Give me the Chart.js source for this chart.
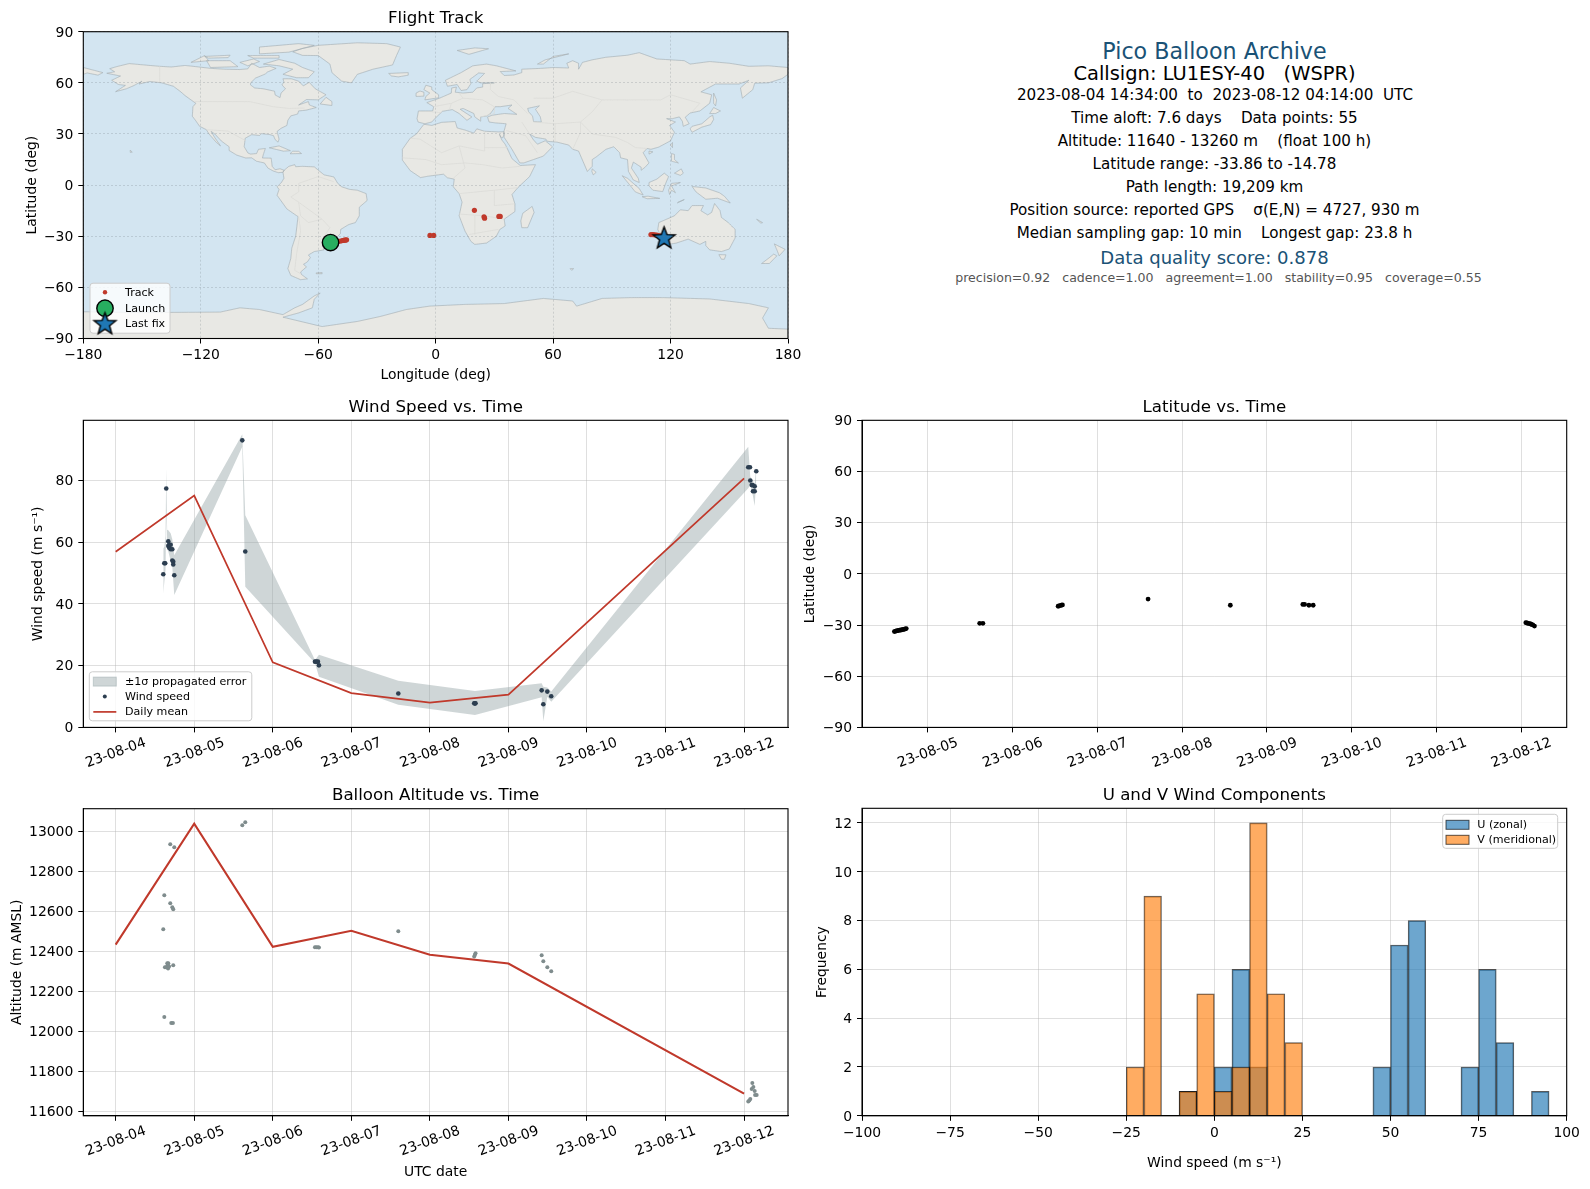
<!DOCTYPE html>
<html>
<head>
<meta charset="utf-8">
<title>Pico Balloon Archive</title>
<script src="https://cdn.jsdelivr.net/npm/chart.js@4/dist/chart.umd.js"></script>
<style>
    html, body { margin: 0; padding: 0; background: #fff; }
    body { position: relative; width: 1590px; height: 1189px; overflow: hidden; font-family: "DejaVu Sans", sans-serif; }
    canvas { position: absolute; }
    .info { position: absolute; left: 1214.5px; transform: translate(-50%, -50%); white-space: pre; }
</style>
</head>
<body>
<canvas id="mapChart"></canvas>
<canvas id="windChart"></canvas>
<canvas id="latChart"></canvas>
<canvas id="altChart"></canvas>
<canvas id="histChart"></canvas>
<script>
// day-of-month values (August 2023, UTC)
const windDays = [4.606,4.619,4.631,4.644,4.670,4.670,4.682,4.682,4.700,4.700,4.721,4.721,4.733,4.733,4.746,5.612,5.650,6.537,6.554,6.575,6.588,7.598,8.564,8.574,8.581,9.423,9.444,9.495,9.545,12.053,12.075,12.079,12.097,12.110,12.113,12.135,12.135,12.155];
const windSpeed = [49.6,53.2,53.2,77.4,60.3,58.8,59.2,58.2,59.2,57.7,57.7,54.1,53.7,52.8,49.3,93.0,57.0,21.3,21.3,21.3,20.1,11.0,7.8,7.8,7.8,12.0,7.5,11.6,10.1,84.3,84.3,80.0,78.5,78.5,76.5,78.1,76.5,83.0];
const bandDays = [4.606,4.620,4.635,4.644,4.655,4.670,4.700,4.721,4.746,5.612,5.650,6.537,6.588,7.598,8.574,9.423,9.444,9.495,9.545,12.053,12.079,12.110,12.135,12.155];
const bandUpper = [58.0,58.5,62.0,83.9,64.0,63.9,62.9,61.0,55.8,95.0,68.7,21.8,23.5,15.1,11.8,14.3,13.2,12.9,11.6,90.9,81.2,80.1,78.5,85.5];
const bandLower = [43.4,47.2,51.0,70.0,58.0,57.0,54.0,52.0,42.9,90.9,45.6,20.9,16.4,7.3,4.0,9.75,2.0,9.95,8.3,77.5,78.5,75.3,71.7,80.4];
const meanDays = [4,5,6,7,8,9,12];
const meanWind = [56.9,75.1,21.1,11.1,8.0,10.6,80.7];
const meanAlt = [12433,13038,12422,12502,12382,12338,11687];

const altDays = [4.695,4.746,4.619,4.695,4.721,4.733,4.606,4.657,4.670,4.663,4.627,4.644,4.667,4.680,4.733,4.619,4.708,4.729,5.612,5.650,6.537,6.554,6.575,6.588,7.598,8.564,8.574,8.581,9.423,9.444,9.495,9.545,12.105,12.097,12.118,12.135,12.140,12.160,12.053,12.066,12.079];
const altMeters = [12935,12920,12680,12640,12620,12610,12510,12340,12340,12330,12320,12320,12313,12323,12330,12070,12040,12040,13030,13045,12420,12420,12420,12418,12500,12373,12382,12390,12380,12350,12320,12300,11740,11710,11720,11700,11680,11680,11647,11653,11660];

const latDays = [4.606,4.619,4.631,4.644,4.657,4.670,4.682,4.695,4.708,4.721,4.733,4.746,5.612,5.650,6.537,6.554,6.575,6.588,7.598,8.568,9.423,9.444,9.495,9.545,12.053,12.066,12.079,12.097,12.110,12.118,12.135,12.155];
const latDeg = [-33.86,-33.6,-33.4,-33.3,-33.1,-33.0,-32.9,-32.8,-32.6,-32.5,-32.3,-32.1,-29.0,-29.0,-19.0,-18.7,-18.4,-18.2,-14.78,-18.4,-17.9,-17.9,-18.4,-18.4,-28.6,-28.8,-29.0,-29.2,-29.4,-29.6,-29.9,-30.6];

// histogram, 5 m/s bins, value is the bin centre
const uBins = [-7.5,2.5,7.5,12.5,47.5,52.5,57.5,72.5,77.5,82.5,92.5];
const uCounts = [1,2,6,2,2,7,8,2,6,3,1];
const vBins = [-22.5,-17.5,-7.5,-2.5,2.5,7.5,12.5,17.5,22.5];
const vCounts = [2,9,1,5,1,2,12,5,3];

const trackLon = [-52,-50.5,-49.5,-48.5,-47.5,-47,-46.5,-46,-45.5,-2.9,-1,19.8,24.7,25,32.3,33,110,111,112,113,114,115,116];
const trackLat = [-33.6,-33.2,-33,-32.8,-32.5,-32.4,-32.3,-32.2,-32.1,-29.5,-29.5,-14.8,-18.6,-19.4,-18.4,-18.4,-29,-29,-29.2,-29.4,-29.6,-29.9,-30.4];
const launchPos = [[-53.7,-33.7]];
const lastFixPos = [[116.7,-30.7]];

const dayTicks = [4,5,6,7,8,9,10,11,12];
const latDayTicks = [5,6,7,8,9,10,11,12];
const lonTicks = [-180,-120,-60,0,60,120,180];
const latTicks = [-90,-60,-30,0,30,60,90];
const windTicks = [0,20,40,60,80];
const altTicks = [11600,11800,12000,12200,12400,12600,12800,13000];
const histXTicks = [-100,-75,-50,-25,0,25,50,75,100];
const histYTicks = [0,2,4,6,8,10,12];

const headerLines = [
    ['Pico Balloon Archive', 50.7, 22.2, '#1a5276', 0],
    ['Callsign: LU1ESY-40   (WSPR)', 73, 19.45, '#000', 0],
    ['2023-08-04 14:34:00  to  2023-08-12 04:14:00  UTC', 94.5, 15.17, '#000', 0.5],
    ['Time aloft: 7.6 days    Data points: 55', 117.5, 15.17, '#000', 0],
    ['Altitude: 11640 - 13260 m    (float 100 h)', 140.5, 15.17, '#000', 0],
    ['Latitude range: -33.86 to -14.78', 163.5, 15.17, '#000', 0],
    ['Path length: 19,209 km', 186.5, 15.17, '#000', 0],
    ['Position source: reported GPS    σ(E,N) = 4727, 930 m', 210, 15.17, '#000', 0],
    ['Median sampling gap: 10 min    Longest gap: 23.8 h', 233, 15.17, '#000', 0],
    ['Data quality score: 0.878', 256.5, 18.06, '#1a5276', 0],
    ['precision=0.92   cadence=1.00   agreement=1.00   stability=0.95   coverage=0.55', 277, 12.55, '#555', 4],
];

// coastlines, [lon, lat]
const landNorthAmerica = [[-168,65.6],[-164,66.5],[-166.5,68.3],[-163,69.5],[-156.6,71.3],[-148,70.4],[-141,69.7],[-135,69.3],[-128,70.2],[-124,69.7],[-115,68.5],[-108,68],[-100,67.8],[-96,68.2],[-94,71.5],[-90,69],[-85,69.8],[-81.5,68.5],[-86,66.3],[-87,65.2],[-92,62.8],[-94.5,60],[-94.6,58.8],[-92.5,57],[-88,56.5],[-82.3,55.1],[-82,52.9],[-79.5,51.3],[-79,54],[-76.7,56.5],[-78.5,58.8],[-77.5,60.5],[-78,62.4],[-73.8,62.4],[-70,61],[-67.6,58.2],[-64.6,60.3],[-61.5,56.5],[-56,53],[-60,50],[-66,50.2],[-70,47],[-65,49],[-64.5,47],[-61,45.5],[-66,44],[-70,43.5],[-70.5,41.7],[-74,40.6],[-75.5,38],[-76,35],[-79,33.3],[-81,31.5],[-80,27],[-80.5,25.2],[-82,26.7],[-82.8,29],[-85,29.7],[-89,30.2],[-90,29.1],[-94,29.6],[-97.3,27.5],[-97.8,22.5],[-95.9,18.8],[-94.5,18.2],[-91.5,18.5],[-90.5,21],[-87,21.5],[-88,18],[-88.5,15.9],[-84,15.8],[-83.5,11],[-82,9],[-79.5,9.6],[-77.4,8.7],[-78,7.5],[-80.4,7.3],[-83,8.3],[-85.7,10],[-87.5,13],[-91.5,14],[-94,16],[-97,15.9],[-101.6,17.6],[-105.5,20.3],[-105.5,22.5],[-109.4,25.8],[-112.8,30],[-114.7,31.5],[-112.8,27.8],[-109.9,23],[-112,25],[-115.8,30],[-117.1,32.5],[-120.6,34.5],[-122.5,37.7],[-124.3,40.4],[-124,46],[-122.5,48],[-125,50],[-128,52.5],[-130.5,55],[-134,58],[-140,60],[-146,60.8],[-151.5,59.3],[-150,61],[-154,58.5],[-158,56.5],[-163.5,54.8],[-158.5,58.5],[-162,59],[-165.5,61.5],[-161,64],[-168,65.6]];
const landGreenland = [[-73,78.2],[-68,80.2],[-60,82],[-40,83.5],[-25,83],[-18,81],[-20,76],[-22,70.5],[-32,68],[-40,65],[-43,60],[-48,61],[-53,66],[-54,71],[-60,76],[-68,76.1],[-73,78.2]];
const landArctic = [
    [[-80,73.7],[-72,71.5],[-68,69],[-62,66.5],[-65,63],[-71,63],[-78,65],[-73,68],[-80,70],[-88,71],[-80,73.7]],
    [[-117,73],[-105,73],[-101,69.5],[-115,69],[-117,73]],
    [[-125,72],[-118,76],[-116,73],[-125,72]],
    [[-90,77],[-90,81],[-70,83],[-62,82],[-75,78],[-90,77]],
    [[-96,76],[-80,76],[-80,74.5],[-93,74.5],[-96,76]],
    [[-100,72],[-93,74],[-90,72.5],[-96,70],[-100,72]],
    [[-118,75.5],[-105,76.2],[-106,74.8],[-116,74.5],[-118,75.5]],
    [[11,79],[20,80.5],[27,80],[17,76.7],[11,79]],
    [[52,71],[56,73.5],[68,77],[60,75.5],[55,71],[52,71]],
    [[-180,65],[-180,69],[-175,67.5],[-170,66],[-172.5,64.5],[-178,65.8],[-180,65]],
];
const landAtlanticIslands = [
    [[-59,47.6],[-53,46.7],[-53,49],[-56,51.5],[-59,47.6]],
    [[-85,21.9],[-80,23],[-74.2,20.2],[-77.7,19.9],[-85,21.9]],
    [[-74.4,18.4],[-68.5,18.5],[-70,19.8],[-73,19.9],[-74.4,18.4]],
    [[-61,-51.5],[-58,-51.3],[-58,-52],[-61,-52],[-61,-51.5]],
    [[-5.5,50],[1.5,51.2],[1.5,53],[-2,56],[-2,57.6],[-5,58.6],[-6,56],[-3,54],[-5,52],[-5.5,50]],
    [[-10,52],[-6,52.2],[-6,54.5],[-8,55.2],[-10,54],[-10,52]],
    [[-24,65.5],[-14,66],[-14,64.5],[-19,63.5],[-22.5,64],[-24,65.5]],
];
const landSouthAmerica = [[-77.4,8.7],[-75,11],[-72,12],[-71.5,10.8],[-68,11],[-62,10.7],[-57,6],[-52,4.8],[-50,1],[-48,-1],[-44,-2.5],[-40,-3],[-35.5,-5],[-35,-9],[-39,-13],[-39,-18],[-41,-22],[-44.5,-23.2],[-48.5,-26],[-48.7,-28.5],[-52,-32.3],[-54,-34.5],[-58,-34.5],[-57,-38],[-62,-39],[-65,-41],[-64,-42.5],[-65.5,-45],[-67.5,-46.5],[-66,-48],[-69,-51],[-68.5,-52.5],[-65.5,-55],[-69,-55.5],[-74,-53],[-75.5,-49],[-74,-43],[-73.5,-37],[-71.5,-30],[-70.3,-18.5],[-76,-14],[-81,-6],[-80,-2.5],[-81,-1],[-78.8,1.5],[-77.5,4],[-78,7.5],[-77.4,8.7]];
const landAfrica = [[-17,14.7],[-17,21],[-13,27.5],[-9.8,30],[-6,35.7],[-2,35],[3,36.8],[10,37.3],[11,33.5],[15,32.3],[19.5,30.5],[21,33],[25,31.6],[32,31.2],[34.9,31.3],[34.9,29.4],[34.2,27.8],[33.2,28.2],[32.6,29.9],[33.8,26.5],[35.5,24],[37.2,20],[39,15.5],[43.2,11.5],[51,12],[48,5],[42,-1.5],[39,-5.5],[40.5,-11],[40.5,-15.5],[35,-20],[35.5,-24],[32.8,-26],[31,-30],[26,-34],[20,-34.8],[18,-33],[15,-27],[12,-18],[13.5,-10],[12,-5],[9,-1],[9.5,3.5],[6,4.3],[4,6.4],[-4,5.2],[-7.7,4.4],[-13,8.5],[-17,14.7]];
const landMadagascar = [[49.3,-12.5],[50.3,-16],[47,-25],[44,-25],[43.5,-21],[44.5,-16.5],[49.3,-12.5]];
const landEurasia = [[-9,37],[-9.5,39],[-8.8,43.5],[-1.5,43.5],[-1,46],[-4.5,48.4],[2,51],[4,52],[8,54],[8.2,57],[10.6,57.5],[10,54.5],[14,54],[19,54.5],[21,57],[24,57.5],[24,59.5],[30,60],[23,60],[21,61],[25,65.5],[22,65.8],[17.5,62],[18,59.5],[16,56],[13,55.5],[11,59],[6,58],[5,61.5],[13,66],[19,70],[26,71],[31,70],[41,67],[33,66.6],[35,64.3],[40,64.6],[44,66],[44,68],[54,68.5],[60,69],[68,68.7],[67,71.5],[70,73],[73,71.5],[73,68],[75,72],[80,73.5],[87,75],[98,76.2],[104,77.7],[113,74],[127,73],[130,71],[140,72.5],[150,71.5],[160,69.7],[170,70],[180,69],[180,65],[177,62.5],[170,60],[163,59.8],[162,56],[156.7,51],[155.7,57],[160,61.5],[155,59.3],[143,59.3],[135.5,54.7],[141,53],[140,48],[135,43.5],[130,42.3],[127.5,39.8],[129.5,36],[126.5,34.5],[126,37.5],[124.5,40],[121,39],[118,39],[122.5,37],[119.5,35],[122,31],[120,26],[114,22.3],[110,21],[108,21.5],[106,19],[109,13],[107,10.5],[105,8.7],[105,10.5],[101,13.5],[100,10],[103.5,4],[104,1.5],[101,3],[98.5,8],[98,15],[94.5,16],[94,19],[91,22.5],[87,21],[82,16.5],[80,15],[80,11],[77.5,8],[73,20],[70,21],[68,23.5],[62,25.2],[57,25.7],[56.3,27],[51,28],[48,30],[50,26.5],[52,24],[56,26],[59.7,22.5],[55,17],[45,13],[43,13],[39,21],[35,28],[34.9,31.5],[36,36],[30.5,36.5],[27.3,37],[26.5,40],[29,41],[35,42],[41.5,41.5],[37,45],[39,47],[33,46],[30.5,46],[28,42],[26,40.5],[23,40],[23,37.5],[20,40],[19.5,42],[14,45],[12.5,44.5],[18.5,40],[16,38],[12,42],[8.5,44.3],[3.5,43.3],[0,39.5],[-2,37],[-5.5,36],[-9,37]];
const landAsiaIslands = [
    [[142,54],[143.5,50],[143,46.5],[142,48],[142,54]],
    [[130,33],[131,34.5],[136,36],[140,40],[141.5,41],[142,38.5],[140.5,35.5],[136,34],[131,31],[130,33]],
    [[140,42],[142,45.5],[145.5,43.5],[143,42],[140,42]],
    [[80,9.5],[82,7.5],[80.5,6],[79.8,8],[80,9.5]],
    [[121,25],[121,22],[120,23.5],[121,25]],
    [[109,20],[111,19.5],[109,18.2],[109,20]],
    [[120.5,18.5],[122,18],[122,15],[124,13],[120.5,14],[120.5,18.5]],
    [[122,7],[125.5,9.5],[126.5,7],[125,5.7],[122,7]],
    [[109,1.5],[113,3.5],[116.8,7],[119,5],[117.5,1],[116,-3.8],[111,-3],[109,-0.5],[109,1.5]],
    [[95.3,5.5],[98,4],[104,-2],[106,-5.8],[102,-4],[98.5,1],[95.3,5.5]],
    [[105.5,-6.8],[108.5,-6.5],[114.5,-7.8],[108,-8],[105.5,-6.8]],
    [[119.5,-5.5],[119,-3],[120.5,1],[125,1.5],[120.5,-0.5],[122.5,-4.5],[120.5,-3],[119.5,-5.5]],
    [[131,-0.8],[138,-1.7],[145,-4.5],[147.5,-6.5],[150.5,-10.5],[144,-7.7],[138,-8.3],[133,-4],[131,-0.8]],
    [[124,-10],[127,-8.5],[123.5,-10.4],[124,-10]],
];
const landAustralia = [[114,-22],[113.5,-26],[115,-30],[115,-34.3],[118,-35],[123,-34],[129,-31.7],[135,-34.8],[138,-33],[138,-35.5],[140,-38],[146,-39],[150,-37.5],[153,-31],[153,-26],[149.5,-22],[146,-19],[145.3,-15],[142.5,-10.8],[141,-16],[139,-17.5],[135.5,-15],[136.8,-12],[131,-12],[129,-15],[125,-14.5],[122,-18],[117,-20.5],[114,-22]];
const landOceania = [
    [[144.7,-40.8],[148.3,-40.9],[147.5,-43.5],[146,-43.5],[144.7,-40.8]],
    [[173,-34.5],[178.5,-37.7],[175.5,-41.5],[174.5,-38.5],[173,-34.5]],
    [[172.7,-40.5],[174.3,-41.5],[170.5,-46],[166.5,-46],[170,-43],[172.7,-40.5]],
    [[164,-20],[167,-22],[166,-22.3],[164,-20]],
    [[-156,20.5],[-155,19.3],[-156,19.2],[-156,20.5]],
    [[68.7,-49],[70.5,-49],[69.5,-50],[68.7,-49]],
];
const landAntarctica = [[-180,-90],[-180,-74.3],[-150,-74.8],[-110,-74.5],[-100,-72],[-90,-73],[-78,-76],[-72,-72],[-68,-70],[-62,-65],[-59,-63.3],[-62,-67],[-63,-72],[-70,-75],[-78,-77.5],[-58,-83],[-40,-80],[-28,-77],[-15,-73],[-3,-71],[15,-70],[35,-69.5],[55,-66.5],[70,-68],[72,-71],[85,-66.5],[100,-66],[116,-66],[140,-66.8],[160,-69.5],[170,-72],[167,-78],[170,-84],[180,-84.5],[180,-90],[-180,-90]];
const seaCaspian = [[47,45],[53,46.5],[51,44.5],[53.5,40],[54,37],[50,37.3],[49.5,40.5],[47.5,43],[47,45]];
const borderLines = [
    [[-123,49],[-95,49],[-83,46],[-75,45],[-67,45.2]],
    [[-141,60],[-141,69.7]],
    [[-117,32.5],[-106,31.7],[-97,26]],
    [[-70,-10],[-58,-20],[-54,-25],[-57,-30],[-53,-33.5]],
    [[-70,-10],[-74,-7],[-70,-4],[-70,1],[-60,5],[-52,2]],
    [[-70,-18],[-69,-27],[-71,-40],[-72,-50],[-69,-52]],
    [[-58,-20],[-65,-22],[-69,-18],[-70,-10]],
    [[-13,27.5],[-8,27],[3,19],[12,23],[25,20],[25,31.6]],
    [[25,22],[37,22]],[[12,23],[15,10],[9,4]],[[-17,16],[-5,15],[3,12],[15,13],[24,12],[34,10],[43,11]],
    [[12,-5],[30,-3],[42,-1.5]],[[12,-17],[25,-18],[35,-20]],[[30,-3],[30,-12],[40,-11]],[[20,-29],[20,-18]],[[17,-29],[32,-26]],
    [[28,60],[28,56],[32,52],[40,50],[47,42]],
    [[50,51],[60,51],[70,55],[85,50],[98,50],[115,50],[120,53],[135,48],[131,43]],
    [[50,37],[61,36],[74,37],[80,30],[92,28],[98,25],[102,22],[108,21.5]],
    [[61,25],[61,36]],[[44,37],[48,30]],[[36,32],[46,29],[52,19]],[[74,37],[74,31],[70,21]],[[85,50],[80,43],[74,37]],
    [[-2,43],[3,42.5]],[[-1,46],[8,48],[7,44]],[[8,48],[14,51],[24,50],[30,46]],[[14,51],[12,54]],[[23,40],[30,42],[30,46]],
];

const gridColor = 'rgba(176,176,176,0.4)';
const mapGridColor = 'rgba(110,120,125,0.3)';
const leftCol = { left: 83.3, right: 788, canvasLeft: 0, canvasRight: 812 };
const rightCol = { left: 862, right: 1566.7, canvasLeft: 800, canvasRight: 1590 };

Chart.defaults.font.family = '"DejaVu Sans"';
Chart.defaults.font.size = 13.9;
Chart.defaults.color = '#000';
Chart.defaults.animation = false;

function zip(xs, ys) { return xs.map((x, i) => [x, ys[i]]); }
function zipBars(xs, ys) { return xs.map((x, i) => ({ x, y: ys[i] })); }
function dayLabel(v) { return '23-08-' + String(v).padStart(2, '0'); }
function minusLabel(v) { return String(v).replace('-', '\u2212'); }
// one dataset for many outlines, null points break the line between them
function joinShapes(shapes) { return shapes.flatMap(s => [...s, [null, null]]); }

function starMarker(radius, fill) {
    const c = document.createElement('canvas');
    c.width = c.height = Math.ceil(radius * 2 + 6);
    const g = c.getContext('2d');
    g.translate(c.width / 2, c.height / 2 + 1);
    g.beginPath();
    for (let i = 0; i < 10; i++) {
        const r = i % 2 ? radius * 0.42 : radius;
        const a = -Math.PI / 2 + i * Math.PI / 5;
        g.lineTo(r * Math.cos(a), r * Math.sin(a));
    }
    g.closePath();
    g.fillStyle = fill;
    g.fill();
    g.lineWidth = 1.4;
    g.strokeStyle = '#000';
    g.stroke();
    return c;
}

// frame round the axes, optional background and a legend inside the axes
const panelDecor = {
    id: 'panelDecor',
    beforeDraw(chart, args, opts) {
        if (!opts.background) return;
        const a = chart.chartArea;
        chart.ctx.fillStyle = opts.background;
        chart.ctx.fillRect(a.left, a.top, a.right - a.left, a.bottom - a.top);
    },
    afterDraw(chart, args, opts) {
        const ctx = chart.ctx, a = chart.chartArea;
        ctx.save();
        ctx.strokeStyle = '#000';
        ctx.lineWidth = 1.1;
        ctx.strokeRect(a.left, a.top, a.right - a.left, a.bottom - a.top);
        if (opts.legend) drawLegend(ctx, a, opts.legend);
        ctx.restore();
    }
};
Chart.register(panelDecor);

function drawLegend(ctx, area, lg) {
    const [x, y, w, h] = lg.box;
    ctx.beginPath();
    ctx.roundRect(area.left + x, area.top + y, w, h, 3);
    ctx.fillStyle = 'rgba(255,255,255,0.8)';
    ctx.fill();
    ctx.strokeStyle = '#ccc';
    ctx.lineWidth = 1;
    ctx.stroke();
    ctx.font = '11.1px "DejaVu Sans"';
    ctx.textBaseline = 'middle';
    ctx.textAlign = 'left';
    lg.rows.forEach(row => {
        const my = area.top + row.y, mx = area.left + lg.markerX;
        if (row.patch) {
            ctx.fillStyle = row.patch;
            ctx.strokeStyle = row.edge || row.patch;
            ctx.lineWidth = 1;
            ctx.fillRect(mx - 11.5, my - 4.5, 23, 9);
            ctx.strokeRect(mx - 11.5, my - 4.5, 23, 9);
        } else if (row.line) {
            ctx.strokeStyle = row.line;
            ctx.lineWidth = 1.7;
            ctx.beginPath();
            ctx.moveTo(mx - 11.5, my);
            ctx.lineTo(mx + 11.5, my);
            ctx.stroke();
        } else if (row.pointStyle === 'circle') {
            ctx.fillStyle = row.color;
            ctx.beginPath();
            ctx.arc(mx, my, row.radius, 0, Math.PI * 2);
            ctx.fill();
            if (row.edge) {
                ctx.strokeStyle = row.edge;
                ctx.lineWidth = 1.4;
                ctx.stroke();
            }
        } else {
            Chart.helpers.drawPoint(ctx, { pointStyle: row.pointStyle, radius: row.radius, borderWidth: 0 }, mx, my);
        }
        ctx.fillStyle = '#000';
        ctx.fillText(row.label, area.left + lg.textX, my + 0.5);
    });
}

function gridOpts(extra) {
    return Object.assign({ color: gridColor, lineWidth: 1, tickColor: '#000', tickLength: 5, tickWidth: 1, drawTicks: true, offset: false }, extra);
}

// builds the chart with the axes box put at fixed page coordinates
function buildPanel(id, col, plotTop, plotBottom, canvasBottom, cfg) {
    const canvasTop = Math.floor(plotTop - 24.2);
    const el = document.getElementById(id);
    el.width = col.canvasRight - col.canvasLeft;
    el.height = canvasBottom - canvasTop;
    el.style.left = col.canvasLeft + 'px';
    el.style.top = canvasTop + 'px';
    const makeScale = (s, isX) => Object.assign({
        type: 'linear',
        grid: gridOpts(),
        border: { color: '#000', width: 1 },
        afterFit: isX ? (a => { a.height = canvasBottom - plotBottom; }) : (a => { a.width = col.left - col.canvasLeft; }),
    }, s);
    const options = {
        responsive: false,
        maintainAspectRatio: false,
        layout: { padding: { left: 0, top: 0, bottom: 0, right: col.canvasRight - col.right } },
        scales: { x: makeScale(cfg.x, true), y: makeScale(cfg.y, false) },
        plugins: {
            legend: { display: false },
            tooltip: { enabled: false },
            title: {
                display: true,
                fullSize: false,
                text: cfg.title,
                font: { size: 16.67, weight: 'normal', lineHeight: 1.2 },
                padding: { top: 2, bottom: plotTop - canvasTop - 22 },
            },
            panelDecor: cfg.decor || {},
        },
    };
    return new Chart(el, { type: cfg.type || 'scatter', data: { datasets: cfg.datasets }, options });
}

function tickScale(min, max, values, extra) {
    return Object.assign({
        min, max,
        afterBuildTicks: a => { a.ticks = values.map(v => ({ value: v })); },
    }, extra);
}

function dayAxis(min, max, values, titleText) {
    const s = tickScale(min, max, values, {
        ticks: {
            minRotation: 20, maxRotation: 20, autoSkip: false, padding: 2, labelOffset: 29.8,
            callback: v => dayLabel(v),
        },
    });
    if (titleText) s.title = { display: true, text: titleText, padding: { top: 0, bottom: 8 } };
    return s;
}

function yAxis(min, max, values, titleText, titleX) {
    return tickScale(min, max, values, {
        ticks: { padding: 5, labelOffset: 1.2, autoSkip: false, callback: v => minusLabel(v) },
        title: { display: true, text: titleText, padding: { top: titleX - 8.3, bottom: 0 } },
    });
}

function landSet(shapes, isSea) {
    return {
        data: joinShapes(shapes), showLine: true, spanGaps: false, pointRadius: 0, fill: 'shape', order: isSea ? 9 : 10, tension: 0.0001,
        backgroundColor: isSea ? '#d3e5f1' : '#e8e8e4',
        borderColor: 'rgba(160,170,175,0.65)', borderWidth: 0.9,
    };
}

const landPolygons = [landNorthAmerica, landGreenland, ...landArctic, ...landAtlanticIslands, landSouthAmerica, landAfrica, landMadagascar, landEurasia, ...landAsiaIslands, landAustralia, ...landOceania, landAntarctica];
const starPoint = starMarker(11.5, '#1f77b4');
const mapGrid = { grid: gridOpts({ color: mapGridColor, lineWidth: 0.8, z: 1 }), border: { display: false, dash: [2, 2] } };

buildPanel('mapChart', leftCol, 31.7, 338.5, 392, {
    title: 'Flight Track',
    x: Object.assign(tickScale(-180, 180, lonTicks, {
        ticks: { padding: 4, autoSkip: false, maxRotation: 0, callback: v => minusLabel(v) },
        title: { display: true, text: 'Longitude (deg)', padding: { top: 0, bottom: 8 } },
    }), mapGrid),
    y: Object.assign(yAxis(-90, 90, latTicks, 'Latitude (deg)', 32), mapGrid),
    datasets: [
        { label: 'Last fix', data: lastFixPos, pointStyle: starPoint, pointRadius: 11, order: 1 },
        { label: 'Launch', data: launchPos, pointRadius: 8.2, backgroundColor: '#27ae60', borderColor: '#000', borderWidth: 1.4, order: 2 },
        { label: 'Track', data: zip(trackLon, trackLat), pointRadius: 2.6, backgroundColor: '#c0392b', borderWidth: 0, order: 3 },
        { label: 'borders', data: joinShapes(borderLines), showLine: true, spanGaps: false, pointRadius: 0, fill: false, order: 8, tension: 0.0001, borderColor: '#dcdcd8', borderWidth: 0.8 },
        Object.assign(landSet([seaCaspian], true), { label: 'sea' }),
        Object.assign(landSet(landPolygons, false), { label: 'land' }),
    ],
    decor: {
        background: '#d3e5f1',
        legend: {
            box: [6.7, 251.5, 80, 50], markerX: 21.7, textX: 41.7,
            rows: [
                { label: 'Track', y: 260.5, pointStyle: 'circle', radius: 2.2, color: '#c0392b' },
                { label: 'Launch', y: 276.5, pointStyle: 'circle', radius: 8.2, color: '#27ae60', edge: '#000' },
                { label: 'Last fix', y: 291.5, pointStyle: starPoint, radius: 11, color: '#1f77b4' },
            ],
        },
    },
});

buildPanel('windChart', leftCol, 420.3, 727.4, 790, {
    title: 'Wind Speed vs. Time',
    x: dayAxis(3.588, 12.559, dayTicks),
    y: yAxis(0, 99.5, windTicks, 'Wind speed (m s\u207b\u00b9)', 38.5),
    datasets: [
        { label: 'Daily mean', data: zip(meanDays, meanWind), showLine: true, pointRadius: 0, borderColor: '#c0392b', borderWidth: 1.7, order: 1 },
        { label: 'Wind speed', data: zip(windDays, windSpeed), pointRadius: 2.3, backgroundColor: '#2c3e50', borderWidth: 0, order: 2 },
        { label: 'upper', data: zip(bandDays, bandUpper), showLine: true, pointRadius: 0, borderWidth: 0, fill: '+1', backgroundColor: 'rgba(149,165,166,0.45)', order: 3 },
        { label: 'lower', data: zip(bandDays, bandLower), showLine: true, pointRadius: 0, borderWidth: 0, order: 4 },
    ],
    decor: {
        legend: {
            box: [6, 251.5, 162.5, 49], markerX: 21.5, textX: 41.7,
            rows: [
                { label: '\u00b11\u03c3 propagated error', y: 261.3, patch: 'rgba(149,165,166,0.45)' },
                { label: 'Wind speed', y: 276.3, pointStyle: 'circle', radius: 2, color: '#2c3e50' },
                { label: 'Daily mean', y: 291.6, line: '#c0392b' },
            ],
        },
    },
});

buildPanel('latChart', rightCol, 420.3, 727.4, 790, {
    title: 'Latitude vs. Time',
    x: dayAxis(4.224, 12.535, latDayTicks),
    y: yAxis(-90, 90, latTicks, 'Latitude (deg)', 10.2),
    datasets: [
        { label: 'Latitude', data: zip(latDays, latDeg), pointRadius: 2.4, backgroundColor: '#000', borderWidth: 0 },
    ],
});

buildPanel('altChart', leftCol, 808.7, 1115.8, 1189, {
    title: 'Balloon Altitude vs. Time',
    x: dayAxis(3.588, 12.559, dayTicks, 'UTC date'),
    y: yAxis(11576, 13113, altTicks, 'Altitude (m AMSL)', 17),
    datasets: [
        { label: 'Daily mean', data: zip(meanDays, meanAlt), showLine: true, pointRadius: 0, borderColor: '#c0392b', borderWidth: 2.08, order: 1 },
        { label: 'Altitude', data: zip(altDays, altMeters), pointRadius: 2, backgroundColor: '#7f8c8d', borderWidth: 0, order: 2 },
    ],
});

buildPanel('histChart', rightCol, 808.3, 1115.8, 1189, {
    type: 'bar',
    title: 'U and V Wind Components',
    x: tickScale(-100, 100, histXTicks, {
        offset: false,
        ticks: { padding: 4, autoSkip: false, maxRotation: 0, callback: v => minusLabel(v) },
        title: { display: true, text: 'Wind speed (m s\u207b\u00b9)', padding: { top: 0, bottom: 17 } },
    }),
    y: yAxis(0, 12.6, histYTicks, 'Frequency', 22),
    datasets: [
        { label: 'V (meridional)', data: zipBars(vBins, vCounts), backgroundColor: 'rgba(255,127,14,0.65)', borderColor: 'rgba(0,0,0,0.65)', borderWidth: 1, grouped: false, barPercentage: 1, categoryPercentage: 1, order: 1 },
        { label: 'U (zonal)', data: zipBars(uBins, uCounts), backgroundColor: 'rgba(31,119,180,0.65)', borderColor: 'rgba(0,0,0,0.65)', borderWidth: 1, grouped: false, barPercentage: 1, categoryPercentage: 1, order: 2 },
    ],
    decor: {
        legend: {
            box: [580.7, 6, 115, 34], markerX: 595.5, textX: 615.3,
            rows: [
                { label: 'U (zonal)', y: 16.5, patch: 'rgba(31,119,180,0.65)', edge: 'rgba(0,0,0,0.65)' },
                { label: 'V (meridional)', y: 31.5, patch: 'rgba(255,127,14,0.65)', edge: 'rgba(0,0,0,0.65)' },
            ],
        },
    },
});

headerLines.forEach(([text, y, size, color, shift]) => {
    const d = document.createElement('div');
    d.className = 'info';
    d.textContent = text;
    d.style.top = y + 'px';
    d.style.fontSize = size + 'px';
    d.style.color = color;
    d.style.marginLeft = shift + 'px';
    document.body.appendChild(d);
});
</script>
</body>
</html>
